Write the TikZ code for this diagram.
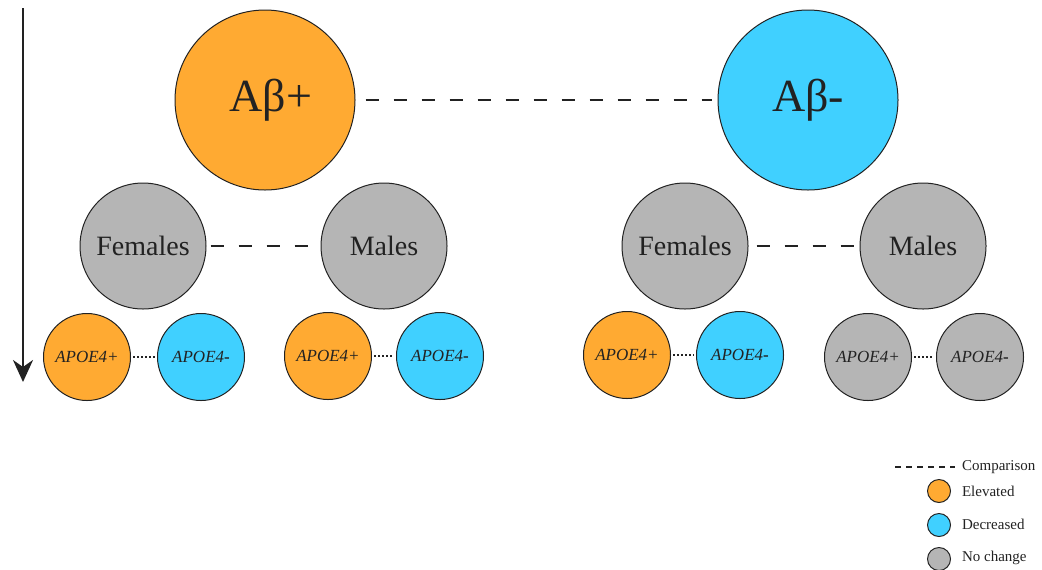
\documentclass[tikz,border=0pt]{standalone}
\usepackage{fontspec}
\setmainfont{Liberation Serif}
\usetikzlibrary{arrows.meta}

\definecolor{elevated}{RGB}{255,170,50}
\definecolor{decreased}{RGB}{64,208,255}
\definecolor{nochange}{RGB}{181,181,181}
\definecolor{ink}{RGB}{34,34,34}

\begin{document}
\begin{tikzpicture}[x=0.5pt,y=-0.5pt,
  grp/.style={circle,draw=ink,line width=0.5pt,inner sep=0pt,text=ink},
  big/.style={grp,minimum size=90pt,font=\fontsize{23}{23}\selectfont},
  mid/.style={grp,fill=nochange,minimum size=63pt,font=\fontsize{14}{14}\selectfont},
  small/.style={grp,minimum size=43.5pt,font=\fontsize{8.5}{8.5}\selectfont},
  key/.style={grp,minimum size=11.5pt},
  keytext/.style={anchor=west,text=ink,font=\fontsize{7.5}{7.5}\selectfont},
  cmp/.style={draw=ink,line width=0.6pt,dash pattern=on 6.5pt off 7.5pt},
  sub/.style={draw=ink,line width=0.6pt,dash pattern=on 1pt off 1pt}
]
  % --- Frame ---
  \useasboundingbox (0,0) rectangle (1042,569);

  % --- Time arrow ---
  \coordinate (arrtop) at (23,8);
  \coordinate (arrbot) at (23,382);
  \draw[ink,line width=1.3pt,-{Stealth[length=11pt,width=10pt,inset=3.5pt]}]
       (arrtop) -- (arrbot);

  % --- Amyloid groups ---
  \node[big,fill=elevated]  (abpos) at (265,100) {\hspace{6pt}Aβ+};
  \node[big,fill=decreased] (abneg) at (808,100) {Aβ-};
  \draw[cmp,shorten <=5pt,shorten >=3pt] (abpos) -- (abneg);

  % --- Sex groups ---
  \node[mid] (fpos) at (143,246) {Females};
  \node[mid] (mpos) at (384,246) {Males};
  \node[mid] (fneg) at (685,246) {Females};
  \node[mid] (mneg) at (923,246) {Males};
  \draw[cmp,shorten <=2pt,shorten >=3pt] (fpos) -- (mpos);
  \draw[cmp,shorten <=4pt,shorten >=1pt] (fneg) -- (mneg);

  % --- APOE4 groups ---
  \node[small,fill=elevated]  (fpos4p) at (87,357)  {\textit{APOE4+}};
  \node[small,fill=decreased] (fpos4n) at (201,357) {\textit{APOE4}\textbf{-}};
  \node[small,fill=elevated]  (mpos4p) at (328,356) {\textit{APOE4+}};
  \node[small,fill=decreased] (mpos4n) at (440,356) {\textit{APOE4}\textbf{-}};
  \node[small,fill=elevated]  (fneg4p) at (627,355) {\textit{APOE4+}};
  \node[small,fill=decreased] (fneg4n) at (740,355) {\textit{APOE4}\textbf{-}};
  \node[small,fill=nochange]  (mneg4p) at (868,357) {\textit{APOE4+}};
  \node[small,fill=nochange]  (mneg4n) at (980,357) {\textit{APOE4}\textbf{-}};
  \foreach \a/\b in {fpos4p/fpos4n,mpos4p/mpos4n,fneg4p/fneg4n,mneg4p/mneg4n}
    \draw[sub,shorten <=1pt,shorten >=1pt] (\a) -- (\b);

  % --- Legend ---
  \coordinate (keyl) at (895,467);
  \node[keytext] (keycmp) at (955,467) {Comparison};
  \draw[draw=ink,line width=0.6pt,dash pattern=on 3pt off 2.5pt] (keyl) -- (keycmp.west);
  \node[key,fill=elevated]  (keyup)   at (939,491) {};
  \node[key,fill=decreased] (keydown) at (939,525) {};
  \node[key,fill=nochange]  (keynone) at (939,559) {};
  \node[keytext] at (955,491) {Elevated};
  \node[keytext] at (955,524) {Decreased};
  \node[keytext] at (955,558) {No change};
\end{tikzpicture}
\end{document}
